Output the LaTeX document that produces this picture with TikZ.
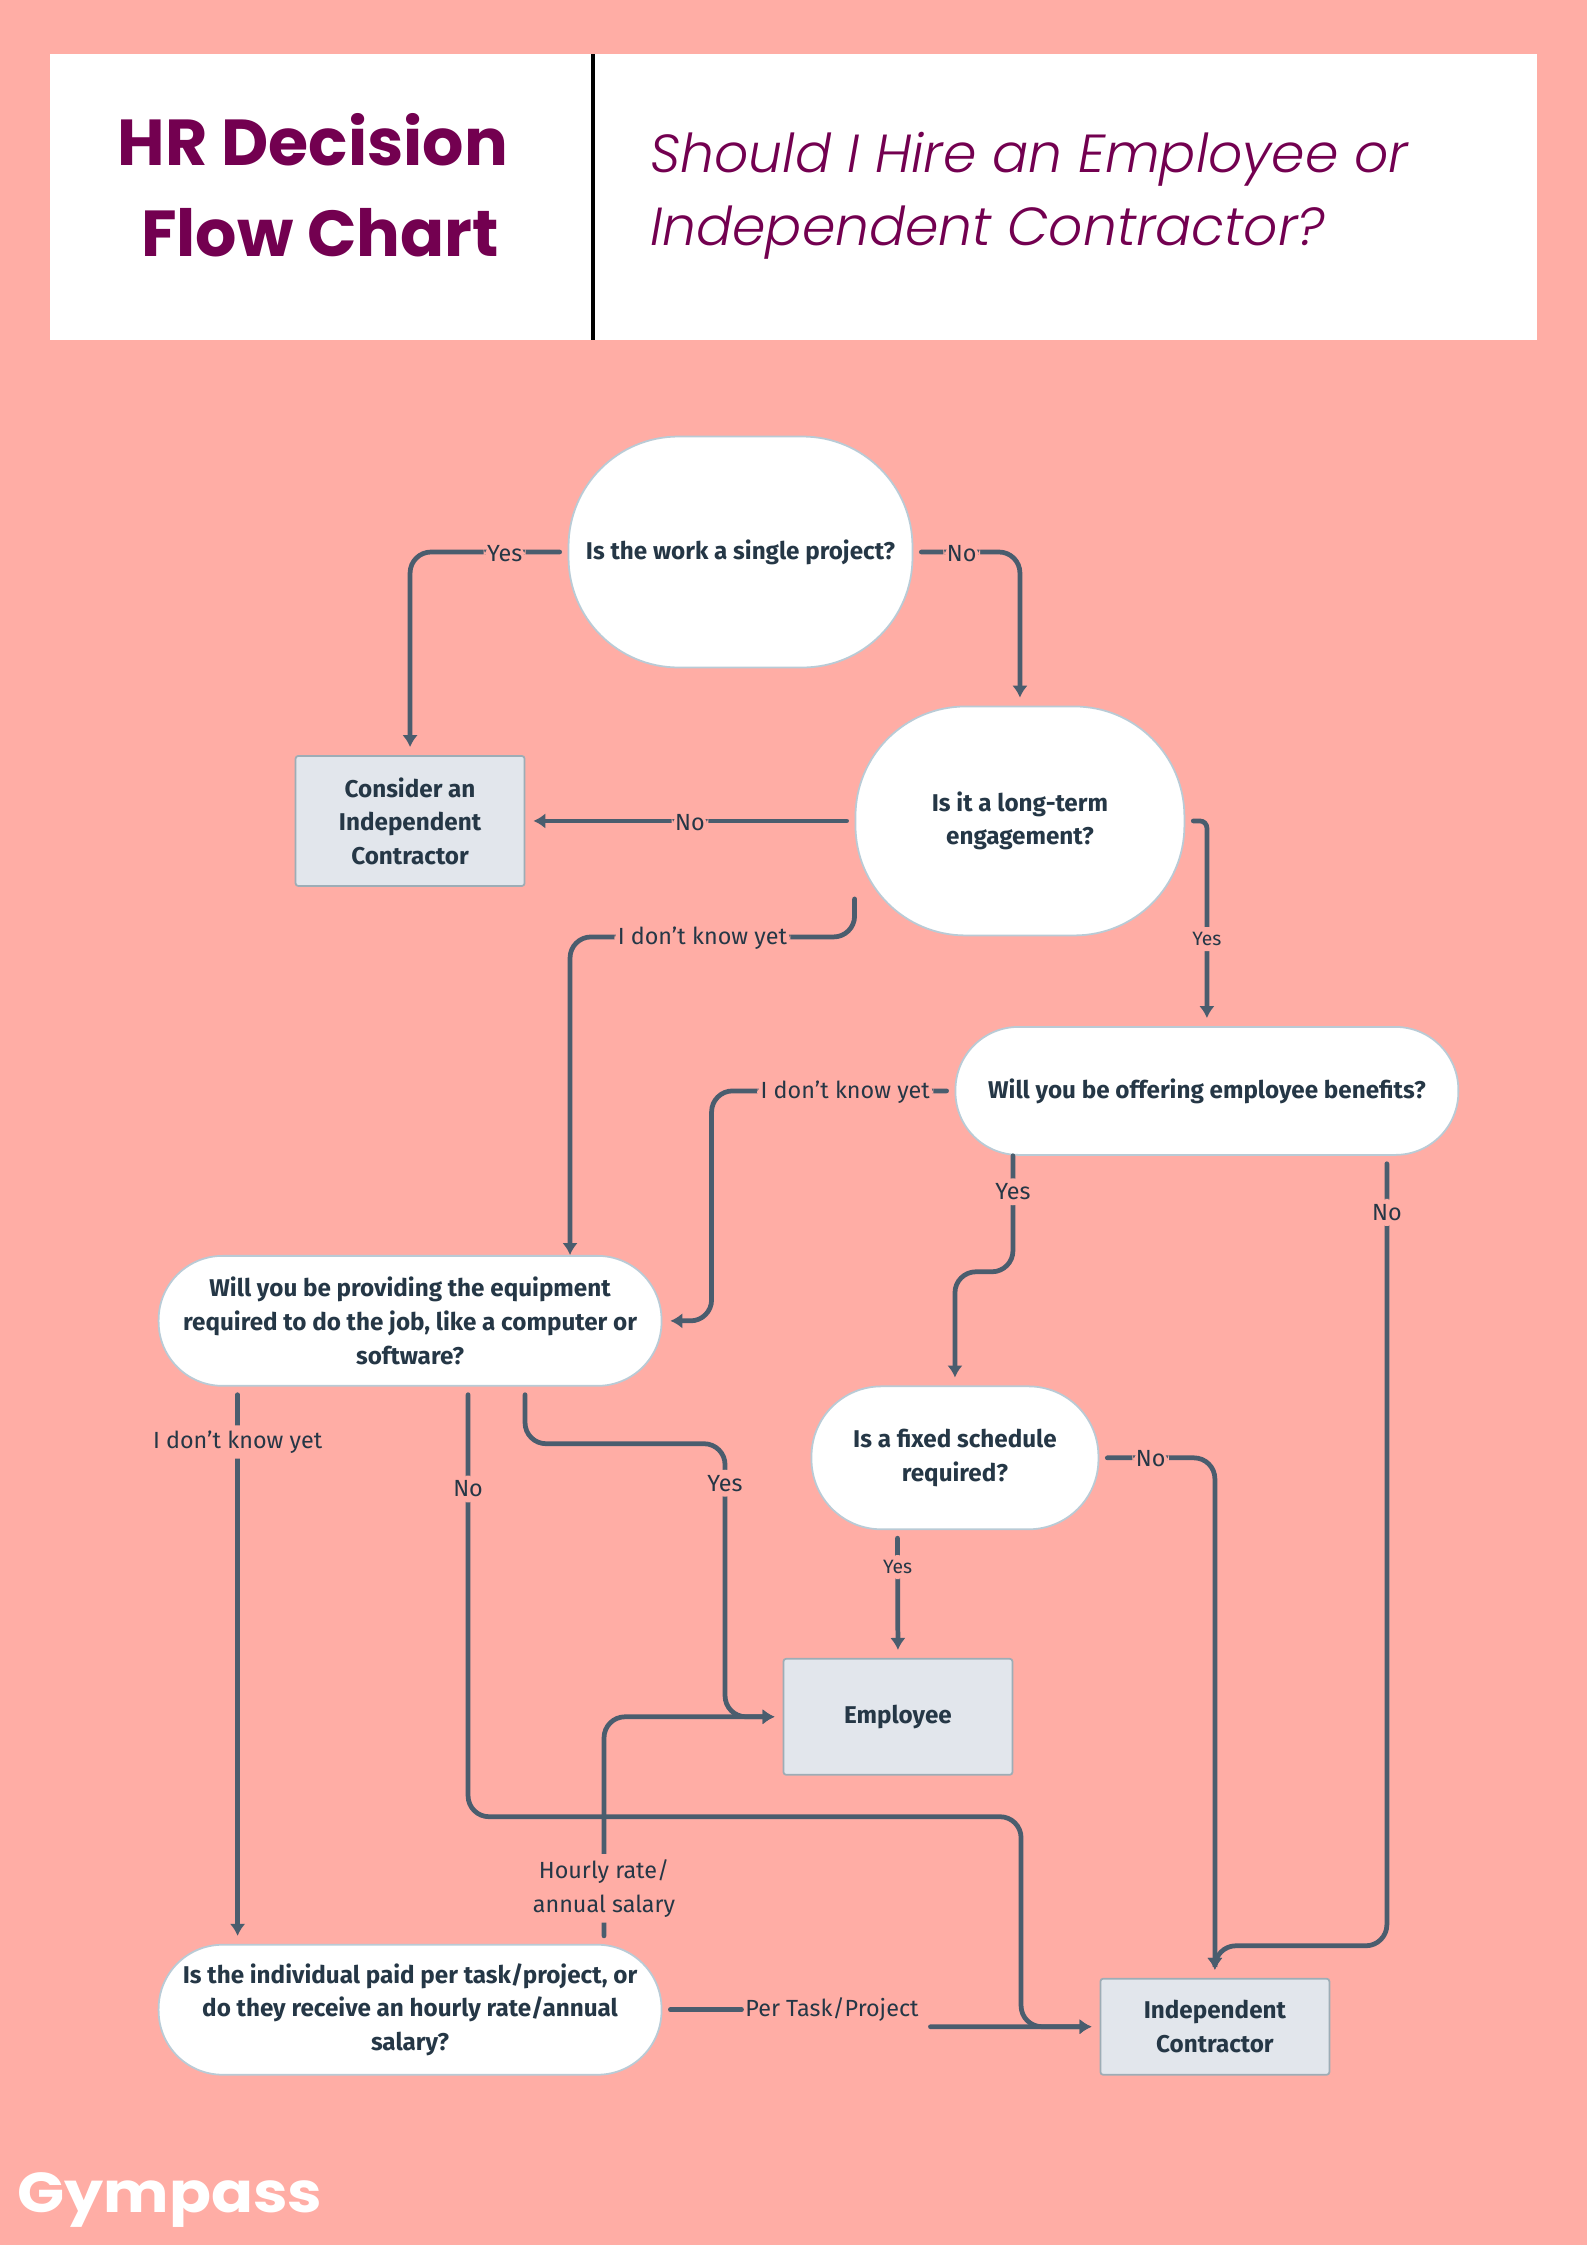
\documentclass[tikz,border=0pt]{standalone}
\usepackage{fontspec}
\setmainfont{Fira Sans}
\newfontfamily\titlefont{Poppins}
\newfontfamily\subfont{Poppins Light}
\newfontfamily\brandfont[FakeStretch=1.10]{Poppins}
\usepackage{tikz}
\usetikzlibrary{positioning,arrows.meta}

\definecolor{bgpink}{HTML}{FFADA5}
\definecolor{plum}{HTML}{730050}
\definecolor{inkblue}{HTML}{253746}
\definecolor{linegray}{HTML}{4A5D6E}
\definecolor{edgegray}{HTML}{B9CBD6}
\definecolor{boxgray}{HTML}{E2E6EC}

\tikzset{
  question/.style={draw=edgegray, line width=1pt, fill=white, rectangle, rounded corners=#1, inner sep=0pt, align=center, text=inkblue, font=\fontsize{13.8}{19.1}\selectfont\bfseries},
  outcome/.style={draw=edgegray!85!black, line width=1pt, fill=boxgray, rectangle, rounded corners=1.5pt, inner sep=0pt, align=center, text=inkblue, minimum width=4.58cm, font=\fontsize{13.8}{19.1}\selectfont\bfseries},
  flow/.style={draw=linegray, line width=2.7pt, line cap=round, rounded corners=0.42cm, shorten <=0.16cm, shorten >=0.16cm, -{Latex[length=6.8pt,width=8.8pt]}},
  flowbare/.style={draw=linegray, line width=2.7pt, line cap=round, shorten <=0.16cm},
  lab/.style={fill=bgpink, text=inkblue, inner xsep=2pt, inner ysep=3pt, align=center, yshift=-0.7pt, font=\fontsize{13.3}{19.5}\selectfont},
  smalllab/.style={lab, font=\fontsize{11}{14}\selectfont}
}

\begin{document}
\begin{tikzpicture}[x=0.02cm, y=-0.02cm, on grid]
  \useasboundingbox (0,0) rectangle (1587,2245);
  \fill[bgpink] (0,0) rectangle (1587,2245);

  % header
  \fill[white] (50,54) rectangle (1537,340);
  \coordinate (ruletop) at (593,54);
  \coordinate (rulebot) at (593,340);
  \draw[black, line width=2.2pt] (ruletop) -- (rulebot);
  \node (title) [align=center, text=plum, font=\fontsize{37}{52}\selectfont\titlefont\bfseries] at (313,185) {HR Decision\\ \hspace*{8pt}Flow Chart};
  \node (subtitle) [anchor=west, align=left, text=plum, font=\fontsize{30.5}{41.5}\selectfont\subfont\itshape] at (644,196) {Should I Hire an Employee or\\ Independent Contractor?};
  \node (brand) [anchor=west, inner sep=0pt, text=white, font=\fontsize{32}{40}\selectfont\brandfont\bfseries] at (17,2200) {Gympass};

  % decisions and outcomes
  \node (single) [question=2.2cm, minimum width=6.88cm, minimum height=4.62cm] at (740.5,552) {Is the work a single project?};
  \node (longterm) [question=2.2cm, minimum width=6.58cm, minimum height=4.58cm, below right=5.38cm and 5.59cm of single] {Is it a long-term\\ engagement?};
  \node (consider) [outcome, minimum height=2.6cm, left=12.2cm of longterm] {Consider an\\ Independent\\ Contractor};
  \node (benefits) [question=1.26cm, minimum width=10.06cm, minimum height=2.56cm, below right=5.4cm and 3.74cm of longterm] {Will you be offering employee benefits?};
  \node (equipment) [question=1.28cm, minimum width=10.06cm, minimum height=2.6cm, below=10cm of consider] {Will you be providing the equipment\\ required to do the job, like a computer or\\ software?};
  \node (fixed) [question=1.4cm, minimum width=5.74cm, minimum height=2.86cm, below left=7.34cm and 5.04cm of benefits] {Is a fixed schedule\\ required?};
  \node (employee) [outcome, minimum height=2.32cm, below left=5.18cm and 1.14cm of fixed] {Employee};
  \node (paid) [question=1.28cm, minimum width=10.06cm, minimum height=2.6cm, below=13.78cm of equipment] {Is the individual paid per task/project, or\\ do they receive an hourly rate/annual\\ salary?};
  \node (contractor) [outcome, minimum height=1.92cm, below right=11.38cm and 5.2cm of fixed] {Independent\\ Contractor};

  % connectors
  \draw[flow] (single) -| (consider) node[lab, pos=0.2] (lyes1) {Yes};
  \draw[flow] (single) -| (longterm) node[lab, pos=0.227] (lno1) {No};
  \draw[flow] (longterm) -- (consider) node[lab, midway] (lno2) {No};
  \draw[flow, shorten >=0pt] ([yshift=-1.4cm]longterm.west) -- ++(0,46) -| ([xshift=3.2cm]equipment.north) node[lab, pos=0.2675] (lunk1) {I don't know yet};
  \draw[flow, rounded corners=0.14cm] (longterm) -| (benefits) node[smalllab, pos=0.785] (lyes2) {Yes};
  \draw[flow] (benefits.west) -- ++(-243,0) node[lab, pos=0.45] (lunk2) {I don't know yet} |- (equipment);
  \draw[flow, shorten <=0pt] ([xshift=-3.88cm]benefits.south) -- ++(0,116) node[lab, pos=0.3] (lyes3) {Yes} -| (fixed);
  \draw[flow] ([xshift=3.6cm]benefits.south) -- ++(0,790) node[lab, pos=0.07] (lno3) {No} -| (contractor);
  \draw[flow] (fixed) -| (contractor) node[lab, pos=0.222] (lno4) {No};
  \draw[flow] ([xshift=-1.15cm]fixed.south) -- (employee.north) node[smalllab, pos=0.28] (lyes4) {Yes};
  \draw[flow] ([xshift=-3.45cm]equipment.south) -- ([xshift=-3.45cm]paid.north) node[lab, pos=0.097] (lunk3) {I don't know yet};
  \draw[flow] ([xshift=1.16cm]equipment.south) -- ++(0,430) node[lab, pos=0.235] (lno5) {No} -- ++(553,0) |- (contractor);
  \draw[flow] ([xshift=2.3cm]equipment.south) -- ++(0,57) -- ++(200,0) |- (employee) node[lab, pos=0.07] (lyes5) {Yes};
  \draw[flow] ([xshift=3.88cm]paid.north) |- (employee) node[lab, pos=0.125] (lhourly) {Hourly rate/\\ annual salary};
  \node (lper) [lab, yshift=0.7pt, right=8.44cm of paid] {Per Task/Project};
  \draw[flowbare] (paid) -- (lper);
  \draw[flow] ([yshift=-0.34cm]lper.east) -- (contractor.west);
\end{tikzpicture}
\end{document}
